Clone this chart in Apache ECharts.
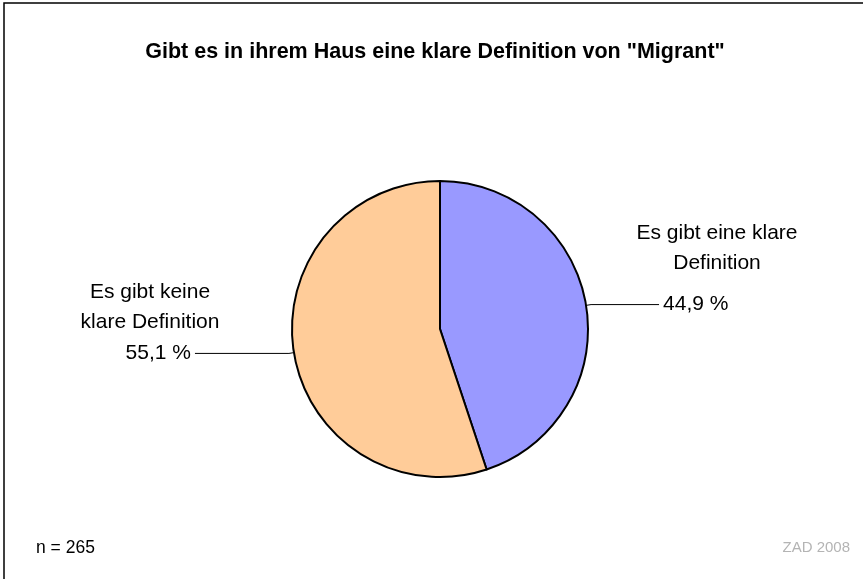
<!DOCTYPE html>
<html>
<head>
<meta charset="utf-8">
<script src="https://cdn.jsdelivr.net/npm/echarts@6/dist/echarts.min.js"></script>
<style>
  html, body { margin: 0; padding: 0; background: #fff; }
  #chart { width: 863px; height: 579px; }
</style>
</head>
<body>
<div id="chart"></div>
<script>
// Daten
const categories = ["Es gibt eine klare Definition", "Es gibt keine klare Definition"];
const nameLines = [["Es gibt eine klare", "Definition"], ["Es gibt keine", "klare Definition"]];
const values = [44.9, 55.1];
const colors = ["#9999FF", "#FFCC99"];
const sampleNote = "n = 265";
const sourceNote = "ZAD 2008";

const font = "'Liberation Sans', Arial, sans-serif";

// Länge der Hinweislinien je Segment
const lineLen = [[5, 68], [5, 94]];

const pieData = categories.map((c, i) => ({
  name: c,
  value: values[i],
  itemStyle: { color: colors[i] },
  labelLine: { length: lineLen[i][0], length2: lineLen[i][1] }
}));

const chart = echarts.init(document.getElementById("chart"));
chart.setOption({
  backgroundColor: "#fff",
  animation: false,
  title: {
    text: 'Gibt es in ihrem Haus eine klare Definition von "Migrant"',
    left: 430, top: 36, textAlign: "center",
    textStyle: { fontFamily: font, fontSize: 21.5, fontWeight: "bold", color: "#000" }
  },
  series: [{
    type: "pie",
    center: [440, 329],
    radius: 148,
    startAngle: 90,
    clockwise: true,
    silent: true,
    itemStyle: { borderColor: "#000", borderWidth: 2 },
    label: {
      show: true,
      position: "outside",
      fontFamily: font,
      fontSize: 21,
      color: "#000",
      distanceToLabelLine: 4,
      formatter: p => p.value.toFixed(1).replace(".", ",") + " %"
    },
    labelLine: { show: true, lineStyle: { color: "#000", width: 1 }, smooth: false },
    data: pieData
  }],
  graphic: [
    { type: "rect", shape: { x: 4, y: 3, width: 900, height: 620 },
      style: { fill: "none", stroke: "#000", lineWidth: 1.5 }, silent: true },
    { type: "text", left: 36, top: 539,
      style: { text: sampleNote, font: "17.5px " + font, fill: "#000" } },
    { type: "text", right: 13, top: 540,
      style: { text: sourceNote, font: "15px " + font, fill: "#b4b4b4" } },
    { type: "text", x: 717, y: 248,
      style: { text: nameLines[0].join("\n"), font: "21px " + font, fill: "#000",
               align: "center", verticalAlign: "middle", lineHeight: 30 } },
    { type: "text", x: 150, y: 307,
      style: { text: nameLines[1].join("\n"), font: "21px " + font, fill: "#000",
               align: "center", verticalAlign: "middle", lineHeight: 30 } }
  ]
});
</script>
</body>
</html>
